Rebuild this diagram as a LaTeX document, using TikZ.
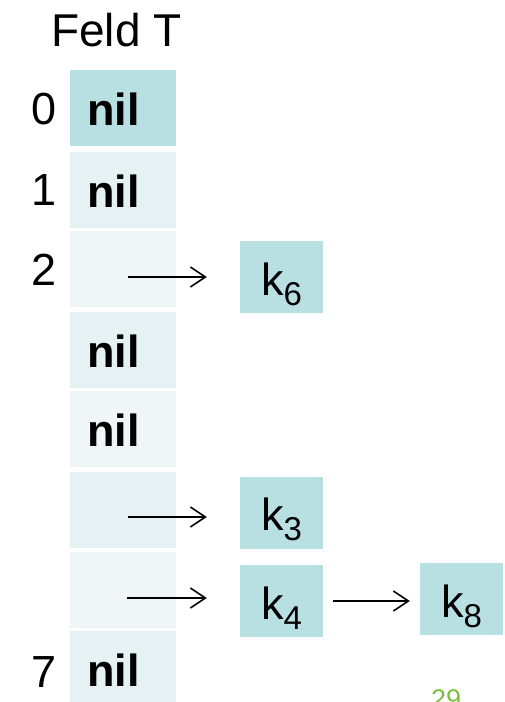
\documentclass[tikz,border=0pt]{standalone}
\usepackage{fontspec}
\setmainfont{Liberation Sans}
\usetikzlibrary{arrows.meta}
\definecolor{tealdark}{HTML}{B8DFE2}
\definecolor{bandA}{HTML}{E5F1F3}
\definecolor{bandB}{HTML}{F0F6F8}
\definecolor{pagegreen}{HTML}{7CBF3E}
\begin{document}
\begin{tikzpicture}[x=1pt,y=-1pt,
  cell/.style={minimum width=106pt, minimum height=76pt, inner sep=0pt},
  keybox/.style={fill=tealdark, minimum width=83pt, minimum height=72pt, inner sep=0pt,
    text height=40pt, text depth=4pt, font=\fontsize{45}{54}\selectfont},
  niltext/.style={font=\fontsize{45}{54}\selectfont\bfseries, anchor=base west, inner sep=0pt},
  idx/.style={font=\fontsize{45}{54}\selectfont, anchor=base east, inner sep=0pt},
  ptr/.style={line width=1.6pt, -{Straight Barb[length=15pt,width=20pt]}}
]
\useasboundingbox (0,0) rectangle (504,702);
\fill[white] (0,0) rectangle (504,702);

% title
\node[font=\fontsize{46}{55}\selectfont, anchor=base west, inner sep=0pt] (title) at (51,46) {Feld T};

% table cells
\node[cell, fill=tealdark] (r0) at (123,107.5) {};
\node[cell, fill=bandA] (r1) at (123,190) {};
\node[cell, fill=bandB] (r2) at (123,269) {};
\node[cell, fill=bandA] (r3) at (123,349.5) {};
\node[cell, fill=bandB] (r4) at (123,429) {};
\node[cell, fill=bandA] (r5) at (123,510) {};
\node[cell, fill=bandB] (r6) at (123,590) {};
\node[cell, fill=bandA] (r7) at (123,669) {};

% nil texts
\node[niltext] (n0) at (87,125) {nil};
\node[niltext] (n1) at (87,207) {nil};
\node[niltext] (n3) at (87,367) {nil};
\node[niltext] (n4) at (87,446) {nil};
\node[niltext] (n7) at (87,686) {nil};

% indices
\node[idx] (l0) at (57,124) {0};
\node[idx] (l1) at (57,205) {1};
\node[idx] (l2) at (57,285) {2};
\node[idx] (l7) at (57,687) {7};

% key boxes
\node[keybox] (k6) at (281.5,277) {k\raisebox{-10pt}{\fontsize{33}{40}\selectfont 6}};
\node[keybox] (k3) at (281.5,512.5) {k\raisebox{-10pt}{\fontsize{33}{40}\selectfont 3}};
\node[keybox] (k4) at (281.5,601) {k\raisebox{-10pt}{\fontsize{33}{40}\selectfont 4}};
\node[keybox] (k8) at (461.5,599) {k\raisebox{-10pt}{\fontsize{33}{40}\selectfont 8}};

% pointer starts
\coordinate (s2) at (128,277);
\coordinate (s5) at (128,517);
\coordinate (s6) at (127,598);

\draw[ptr, shorten >=33pt] (s2) -- (s2 -| k6.west);
\draw[ptr, shorten >=33pt] (s5) -- (s5 -| k3.west);
\draw[ptr, shorten >=33pt] (s6) -- (s6 -| k4.west);
\draw[ptr, shorten <=10pt, shorten >=10pt] (k4.east) -- (k4.east -| k8.west);

% page number
\node[font=\fontsize{27}{32}\selectfont, text=pagegreen, anchor=base west, inner sep=0pt] (page) at (431,708) {29};
\end{tikzpicture}
\end{document}
